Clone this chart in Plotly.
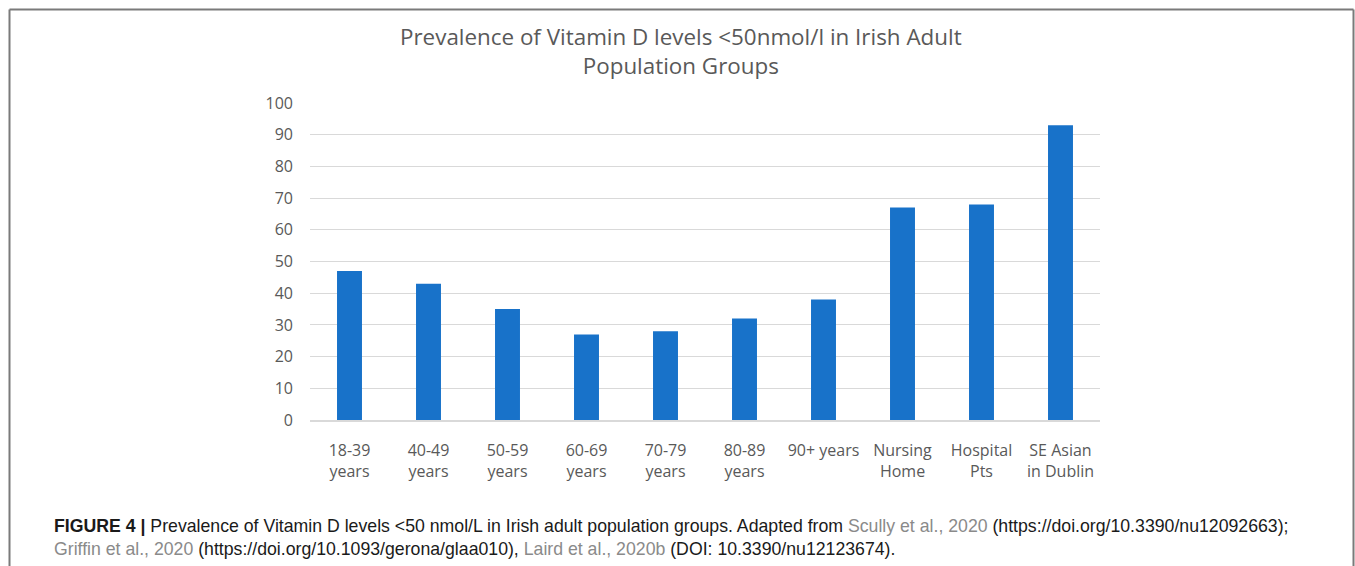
import plotly.graph_objects as go

categories = ["18-39<br>years", "40-49<br>years", "50-59<br>years", "60-69<br>years",
              "70-79<br>years", "80-89<br>years", "90+ years", "Nursing<br>Home",
              "Hospital<br>Pts", "SE Asian<br>in Dublin"]
values = [47, 43, 35, 27, 28, 32, 38, 67, 68, 93]
y_ticks = [0, 10, 20, 30, 40, 50, 60, 70, 80, 90, 100]

title_text = "Prevalence of Vitamin D levels <50nmol/l in Irish Adult<br>Population Groups"
caption_line1 = ("<b>FIGURE 4 |</b> Prevalence of Vitamin D levels &lt;50 nmol/L in Irish adult population groups. "
                 "Adapted from <span style='color:#8a8a8a'>Scully et al., 2020</span> "
                 "(https://doi.org/10.3390/nu12092663);")
caption_line2 = ("<span style='color:#8a8a8a'>Griffin et al., 2020</span> (https://doi.org/10.1093/gerona/glaa010), "
                 "<span style='color:#8a8a8a'>Laird et al., 2020b</span> (DOI: 10.3390/nu12123674).")

W, H = 1355, 566
L, R, T, B = 310, 255, 103, 146
pw, ph = W - L - R, H - T - B

def px(x):
    return (x - L) / pw

def py(y):
    return (H - B - y) / ph

fig = go.Figure()
fig.add_trace(go.Bar(x=categories, y=values, marker=dict(color="#1872c9", line=dict(width=0)),
                     hoverinfo="skip"))

fig.update_layout(
    width=W, height=H,
    margin=dict(l=L, r=R, t=T, b=B),
    paper_bgcolor="white", plot_bgcolor="white",
    bargap=0.684,
    showlegend=False,
    font=dict(family="Open Sans", color="#595959", size=16),
    xaxis=dict(showgrid=False, showline=True, linecolor="#d9d9d9", linewidth=2,
               ticks="", tickfont=dict(size=16, color="#595959"), ticklabelstandoff=15),
    yaxis=dict(range=[0, 100], tickvals=y_ticks, showgrid=True, gridcolor="#d9d9d9", gridwidth=1,
               zeroline=False, showline=False, ticks="", tickfont=dict(size=16, color="#595959"),
               ticklabelstandoff=16),
)

fig.add_annotation(text=title_text, xref="paper", yref="paper", x=px(681), y=py(51),
                   xanchor="center", yanchor="middle", showarrow=False, align="center",
                   font=dict(family="Open Sans", size=22.4, color="#595959"))

fig.add_annotation(text=caption_line1 + "<br>" + caption_line2, xref="paper", yref="paper",
                   x=px(52), y=py(537), xanchor="left", yanchor="middle", showarrow=False, align="left",
                   font=dict(family="Liberation Sans", size=17.7, color="#1a1a1a"))

frame = dict(color="#7a7a7a", width=2)
fig.add_shape(type="line", xref="paper", yref="paper", x0=px(9.5), x1=px(9.5), y0=py(9.5), y1=py(566), line=frame)
fig.add_shape(type="line", xref="paper", yref="paper", x0=px(9.5), x1=px(1353.5), y0=py(9.5), y1=py(9.5), line=frame)
fig.add_shape(type="line", xref="paper", yref="paper", x0=px(1353.5), x1=px(1353.5), y0=py(9.5), y1=py(566), line=frame)

fig.write_html("out.html", config={"displayModeBar": False},
               post_script="document.body.style.margin='0px';document.body.style.overflow='hidden';")
